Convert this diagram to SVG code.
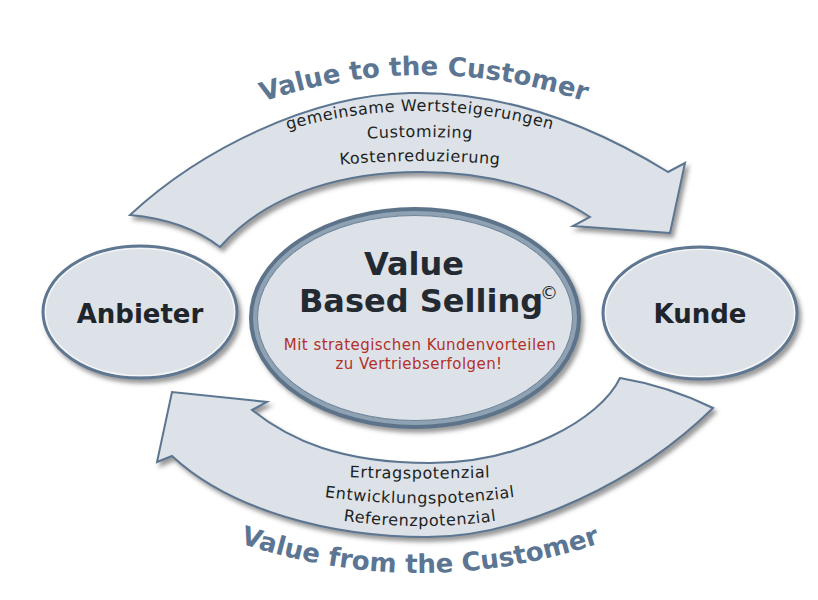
<svg xmlns="http://www.w3.org/2000/svg" xmlns:xlink="http://www.w3.org/1999/xlink" width="818" height="600" viewBox="0 0 818 600">
  <defs>
    <filter id="shadow" x="-10%" y="-10%" width="125%" height="130%">
      <feDropShadow dx="3" dy="4" stdDeviation="2.2" flood-color="#4a4a4a" flood-opacity="0.55"/>
    </filter>
    <!-- baselines for the curved captions -->
    <path id="arcTitleTop" d="M244,108 Q424,42 604,108"/>
    <path id="arcTop1" d="M270,135 Q420,87 570,135"/>
    <path id="arcTop2" d="M320,143 Q420,131 520,143"/>
    <path id="arcTop3" d="M320,167 Q420,155 520,167"/>
    <path id="arcBot1" d="M320,476 Q420,481 520,476"/>
    <path id="arcBot2" d="M300,493 Q420,514 540,493"/>
    <path id="arcBot3" d="M320,517 Q420,535 520,517"/>
    <path id="arcTitleBot" d="M220,536 Q420,610 620,536"/>
  </defs>
  <style>
    .band { fill: #dde2e8; stroke: #5c7590; stroke-width: 2; stroke-linejoin: miter; filter: url(#shadow); }
    .node { fill: #dde2e8; stroke: #5f7790; stroke-width: 3; filter: url(#shadow); }
    .hilite { fill: none; stroke: #ffffff; stroke-opacity: 0.75; stroke-width: 1.2; }
    .title { font-family: "DejaVu Sans", Verdana, sans-serif; font-weight: bold; font-size: 26px; fill: #5b7592; }
    .item { font-family: "DejaVu Sans", Verdana, sans-serif; font-size: 16px; letter-spacing: 0.6px; fill: #1c1f22; }
    .nodeLabel { font-family: "DejaVu Sans", Verdana, sans-serif; font-weight: bold; font-size: 26px; fill: #1f252b; text-anchor: middle; }
    .center { font-family: "DejaVu Sans", Verdana, sans-serif; font-weight: bold; font-size: 32px; fill: #232a31; text-anchor: middle; }
    .slogan { font-family: "DejaVu Sans", Verdana, sans-serif; font-size: 15px; letter-spacing: 0.45px; fill: #b3302b; text-anchor: middle; }
  </style>
  <rect width="818" height="600" fill="#ffffff"/>

  <g id="connectors">
    <!-- upper arrow: Anbieter to Kunde -->
    <path class="band" d="M130,215 C200,150 310,95 410,93 S600,130 668,172 L685,163 L670,233 L573,226 L590,217 C550,190 490,172 420,172 S270,190 220,247 Q185,220 130,215 Z"/>
    <!-- lower arrow: Kunde back to Anbieter -->
    <path class="band" d="M620,378 C600,420 520,463 430,463 S290,440 252,410 L267,402 L172,392 L157,462 L172,456 C230,510 330,537 427,537 S640,480 713,408 Q668,386 620,378 Z"/>

    <text class="title"><textPath href="#arcTitleTop" startOffset="50%" text-anchor="middle">Value to the Customer</textPath></text>
    <text class="item"><textPath href="#arcTop1" startOffset="50%" text-anchor="middle">gemeinsame Wertsteigerungen</textPath></text>
    <text class="item"><textPath href="#arcTop2" startOffset="50%" text-anchor="middle">Customizing</textPath></text>
    <text class="item"><textPath href="#arcTop3" startOffset="50%" text-anchor="middle">Kostenreduzierung</textPath></text>

    <text class="item"><textPath href="#arcBot1" startOffset="50%" text-anchor="middle">Ertragspotenzial</textPath></text>
    <text class="item"><textPath href="#arcBot2" startOffset="50%" text-anchor="middle">Entwicklungspotenzial</textPath></text>
    <text class="item"><textPath href="#arcBot3" startOffset="50%" text-anchor="middle">Referenzpotenzial</textPath></text>
    <text class="title"><textPath href="#arcTitleBot" startOffset="50%" text-anchor="middle">Value from the Customer</textPath></text>
  </g>

  <g id="anbieter">
    <ellipse class="node" cx="140" cy="312" rx="97" ry="66"/>
    <ellipse class="hilite" cx="140" cy="312" rx="94.5" ry="63.5"/>
    <text class="nodeLabel" x="140" y="323">Anbieter</text>
  </g>

  <g id="kunde">
    <ellipse class="node" cx="700" cy="313" rx="97" ry="66"/>
    <ellipse class="hilite" cx="700" cy="313" rx="94.5" ry="63.5"/>
    <text class="nodeLabel" x="700" y="323">Kunde</text>
  </g>

  <g id="value-based-selling">
    <ellipse cx="415" cy="318" rx="162" ry="107" fill="#dde2e8" stroke="#5d7389" stroke-width="8" filter="url(#shadow)"/>
    <ellipse cx="415" cy="318" rx="160" ry="105" fill="none" stroke="#8fa2b4" stroke-width="4"/>
    <ellipse cx="415" cy="318" rx="157.5" ry="102.5" fill="none" stroke="#6d8398" stroke-width="1"/>
    <text class="center" x="414" y="275">Value</text>
    <text class="center" x="421" y="312">Based Selling</text>
    <text x="549" y="299" font-family="DejaVu Sans, Verdana, sans-serif" font-size="18px" fill="#232a31" text-anchor="middle">©</text>
    <text class="slogan" x="420" y="350">Mit strategischen Kundenvorteilen</text>
    <text class="slogan" x="419" y="369">zu Vertriebserfolgen!</text>
  </g>
</svg>
